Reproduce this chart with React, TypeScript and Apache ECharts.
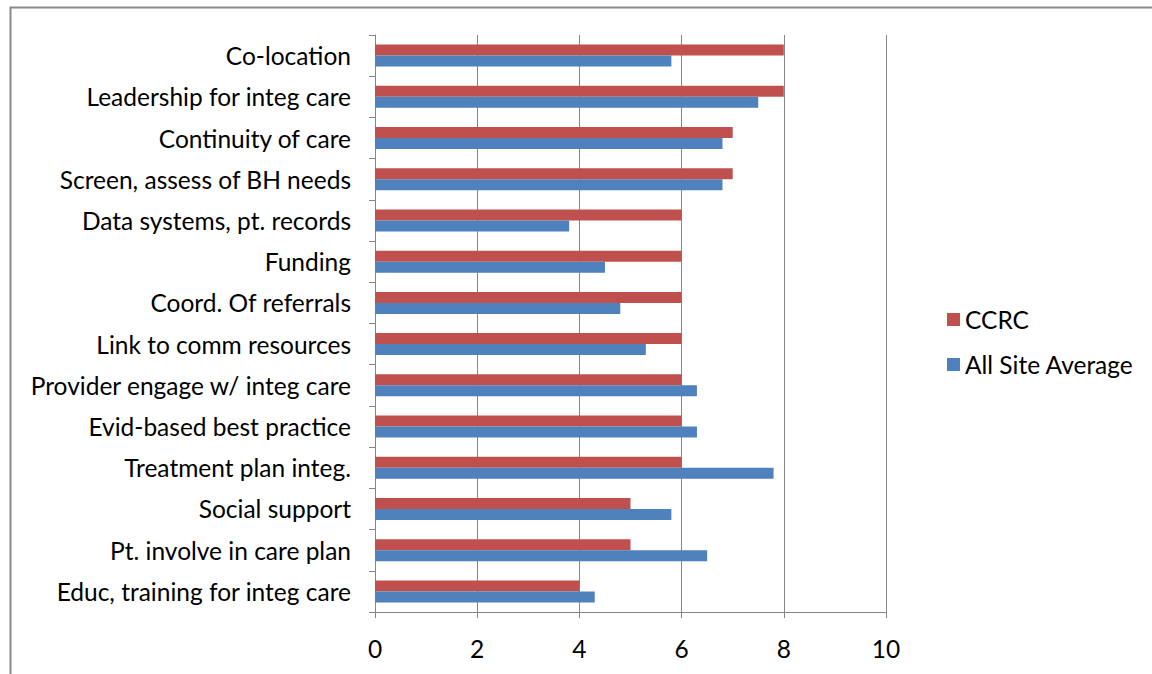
import React, { useEffect, useRef } from "react";
import * as echarts from "echarts";

const categories = [
  "Co-location",
  "Leadership for integ care",
  "Continuity of care",
  "Screen, assess of BH needs",
  "Data systems, pt. records",
  "Funding",
  "Coord. Of referrals",
  "Link to comm resources",
  "Provider engage w/ integ care",
  "Evid-based best practice",
  "Treatment plan integ.",
  "Social support",
  "Pt. involve in care plan",
  "Educ, training for integ care",
];
const ccrc = [8, 8, 7, 7, 6, 6, 6, 6, 6, 6, 6, 5, 5, 4];
const allSiteAverage = [5.8, 7.5, 6.8, 6.8, 3.8, 4.5, 4.8, 5.3, 6.3, 6.3, 7.8, 5.8, 6.5, 4.3];
const seriesNames = ["CCRC", "All Site Average"];
const xTicks = { min: 0, max: 10, interval: 2 };

const FONT = "Lato, 'Open Sans', sans-serif";
const FS = 24.5;
const AXIS = "#868686";

export default function App() {
  const ref = useRef<HTMLDivElement>(null);
  useEffect(() => {
    if (!ref.current) return;
    const chart = echarts.init(ref.current, undefined, { renderer: "svg" });
    chart.setOption({
      animation: false,
      backgroundColor: "#ffffff",
      grid: { left: 375, right: 266, top: 35, bottom: 62, containLabel: false },
      legend: {
        orient: "vertical",
        left: 942,
        top: 302,
        itemWidth: 13,
        itemHeight: 13,
        itemGap: 20,
        icon: "rect",
        textStyle: { fontFamily: FONT, fontSize: FS, color: "#000" },
        data: seriesNames,
      },
      graphic: [
        {
          type: "rect",
          left: 8,
          top: 5,
          shape: { x: 0, y: 0, width: 1170, height: 700 },
          style: { fill: "none", stroke: "#8a8a8a", lineWidth: 2 },
          silent: true,
        },
      ],
      xAxis: {
        type: "value",
        min: xTicks.min,
        max: xTicks.max,
        interval: xTicks.interval,
        axisLine: { show: true, lineStyle: { color: AXIS } },
        axisTick: { show: true, length: 6, lineStyle: { color: AXIS } },
        splitLine: { show: true, lineStyle: { color: AXIS, width: 1 } },
        axisLabel: { fontFamily: FONT, fontSize: FS, color: "#000", margin: 24 },
      },
      yAxis: {
        type: "category",
        inverse: true,
        data: categories,
        axisLine: { show: true, lineStyle: { color: AXIS } },
        axisTick: { show: true, length: 6, lineStyle: { color: AXIS } },
        axisLabel: { fontFamily: FONT, fontSize: FS, color: "#000", margin: 24 },
      },
      series: [
        {
          name: seriesNames[0],
          type: "bar",
          data: ccrc,
          barWidth: 11,
          barGap: "0%",
          itemStyle: { color: "#C0504D" },
        },
        {
          name: seriesNames[1],
          type: "bar",
          data: allSiteAverage,
          barWidth: 11,
          barGap: "0%",
          itemStyle: { color: "#4F81BD" },
        },
      ],
    });
    return () => chart.dispose();
  }, []);
  return <div ref={ref} style={{ width: 1152, height: 674, position: "absolute", left: 0, top: 0 }} />;
}
